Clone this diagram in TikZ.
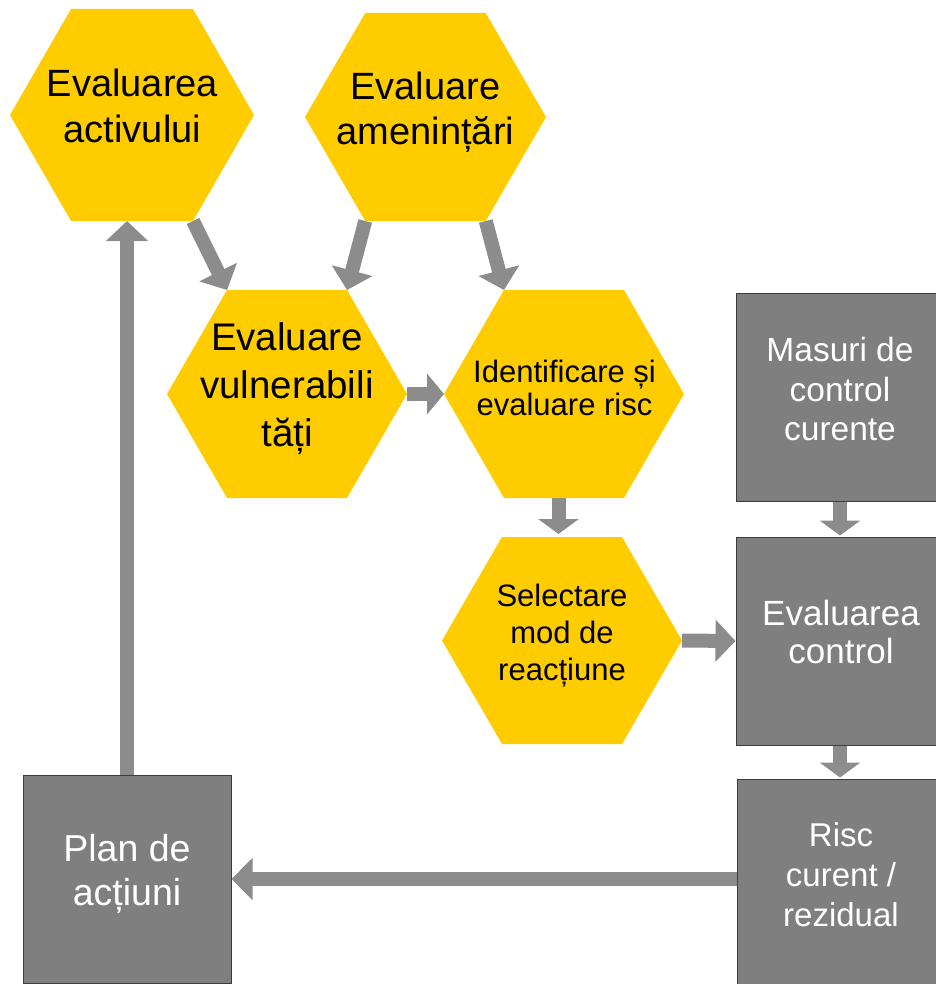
\documentclass[tikz,border=0pt]{standalone}
\usepackage{fontspec}
\setmainfont{Liberation Sans}
\usetikzlibrary{arrows.meta}
\definecolor{hexy}{RGB}{255,204,0}
\definecolor{boxg}{RGB}{127,127,127}
\definecolor{boxb}{RGB}{60,60,60}
\definecolor{arrg}{RGB}{140,140,140}
\newcommand{\mystrut}{\rule{0pt}{1em}}
\newcommand{\hexcoords}[5]{%
  \coordinate (#1-l) at (#2-#4,#3);
  \coordinate (#1-r) at (#2+#4,#3);
  \coordinate (#1-tl) at (#2-#4/2,#3-#5);
  \coordinate (#1-tr) at (#2+#4/2,#3-#5);
  \coordinate (#1-bl) at (#2-#4/2,#3+#5);
  \coordinate (#1-br) at (#2+#4/2,#3+#5);}
\newcommand{\hexfillit}[1]{\fill[hexfill] (#1-l) -- (#1-tl) -- (#1-tr) -- (#1-r) -- (#1-br) -- (#1-bl) -- cycle;}
\begin{document}
\begin{tikzpicture}[x=1pt,y=-1pt,
  hexfill/.style={fill=hexy},
  graybox/.style={draw=boxb, line width=1pt, fill=boxg, minimum width=208pt, minimum height=208pt, inner sep=0pt},
  hextext/.style={align=center, inner sep=0pt, anchor=north, text=black},
  boxtext/.style={align=center, inner sep=0pt, anchor=north, text=white},
  flow/.style={draw=arrg, line width=14pt, -{Triangle[length=20pt,width=41pt]}},
  flowshort/.style={draw=arrg, line width=14pt, -{Triangle[length=15pt,width=40pt]}},
]
\useasboundingbox (0,0) rectangle (935,984);

\hexcoords{ha}{132}{115}{122}{106}
\hexcoords{hb}{425.5}{117}{120.5}{104}
\hexcoords{hc}{287}{394}{120}{104}
\hexcoords{hd}{564}{394}{120}{104}
\hexcoords{he}{562}{640.5}{120}{103.5}

\node[graybox] (masuri) at (840,397) {};
\node[graybox] (evalc) at (840,641) {};
\node[graybox] (risc) at (841,883) {};
\node[graybox] (plan) at (127,879) {};

\coordinate (d-out) at (558.5,498);
\coordinate (e-in) at (558.5,534);

\draw[flow] (ha-br) -- (hc-tl);
\draw[flow] (hb-bl) -- (hc-tr);
\draw[flow] (hb-br) -- (hd-tl);
\draw[flow, -{Triangle[length=17pt,width=40pt]}] (hc-r) -- (hd-l);
\draw[flowshort] (d-out) -- (e-in);
\draw[flow] (he-r) -- (evalc.west);
\draw[flowshort, shorten >=1pt] (masuri.south) -- (evalc.north);
\draw[flowshort, shorten >=1pt] (evalc.south) -- (evalc.south |- risc.north);
\draw[flow, -{Triangle[length=21pt,width=41pt]}] (risc.west |- plan.east) -- (plan.east);
\draw[flow] (plan.north) -- (plan.north |- ha-bl);

\hexfillit{ha}
\hexfillit{hb}
\hexfillit{hc}
\hexfillit{hd}
\hexfillit{he}

\node[hextext, font=\fontsize{38}{46}\selectfont] (ta) at (132.5,96-38) {\mystrut Evaluarea\\activului};
\node[hextext, font=\fontsize{38}{45}\selectfont] (tb) at (425.5,99-38) {\mystrut Evaluare\\amenințări};
\node[hextext, font=\fontsize{38.5}{47.6}\selectfont] (tc) at (287,350.7-38.5) {\mystrut Evaluare\\vulnerabili\\tăți};
\node[hextext, font=\fontsize{31}{33}\selectfont] (td) at (564.5,382.3-31) {\mystrut Identificare și\\evaluare risc};
\node[hextext, font=\fontsize{31}{37}\selectfont] (te) at (562,606-31) {\mystrut Selectare\\mod de\\reacțiune};

\node[boxtext, font=\fontsize{33.5}{39.5}\selectfont] (tm) at (840,361.7-33.5) {\mystrut Masuri de\\control\\curente};
\node[boxtext, font=\fontsize{35}{38.3}\selectfont] (tec) at (841,625-35) {\mystrut Evaluarea\\control};
\node[boxtext, font=\fontsize{33}{40}\selectfont] (tr) at (841,846.7-33) {\mystrut Risc\\curent /\\rezidual};
\node[boxtext, font=\fontsize{37.5}{43.3}\selectfont] (tp) at (127,861.7-37.5) {\mystrut Plan de\\acțiuni};
\end{tikzpicture}
\end{document}
